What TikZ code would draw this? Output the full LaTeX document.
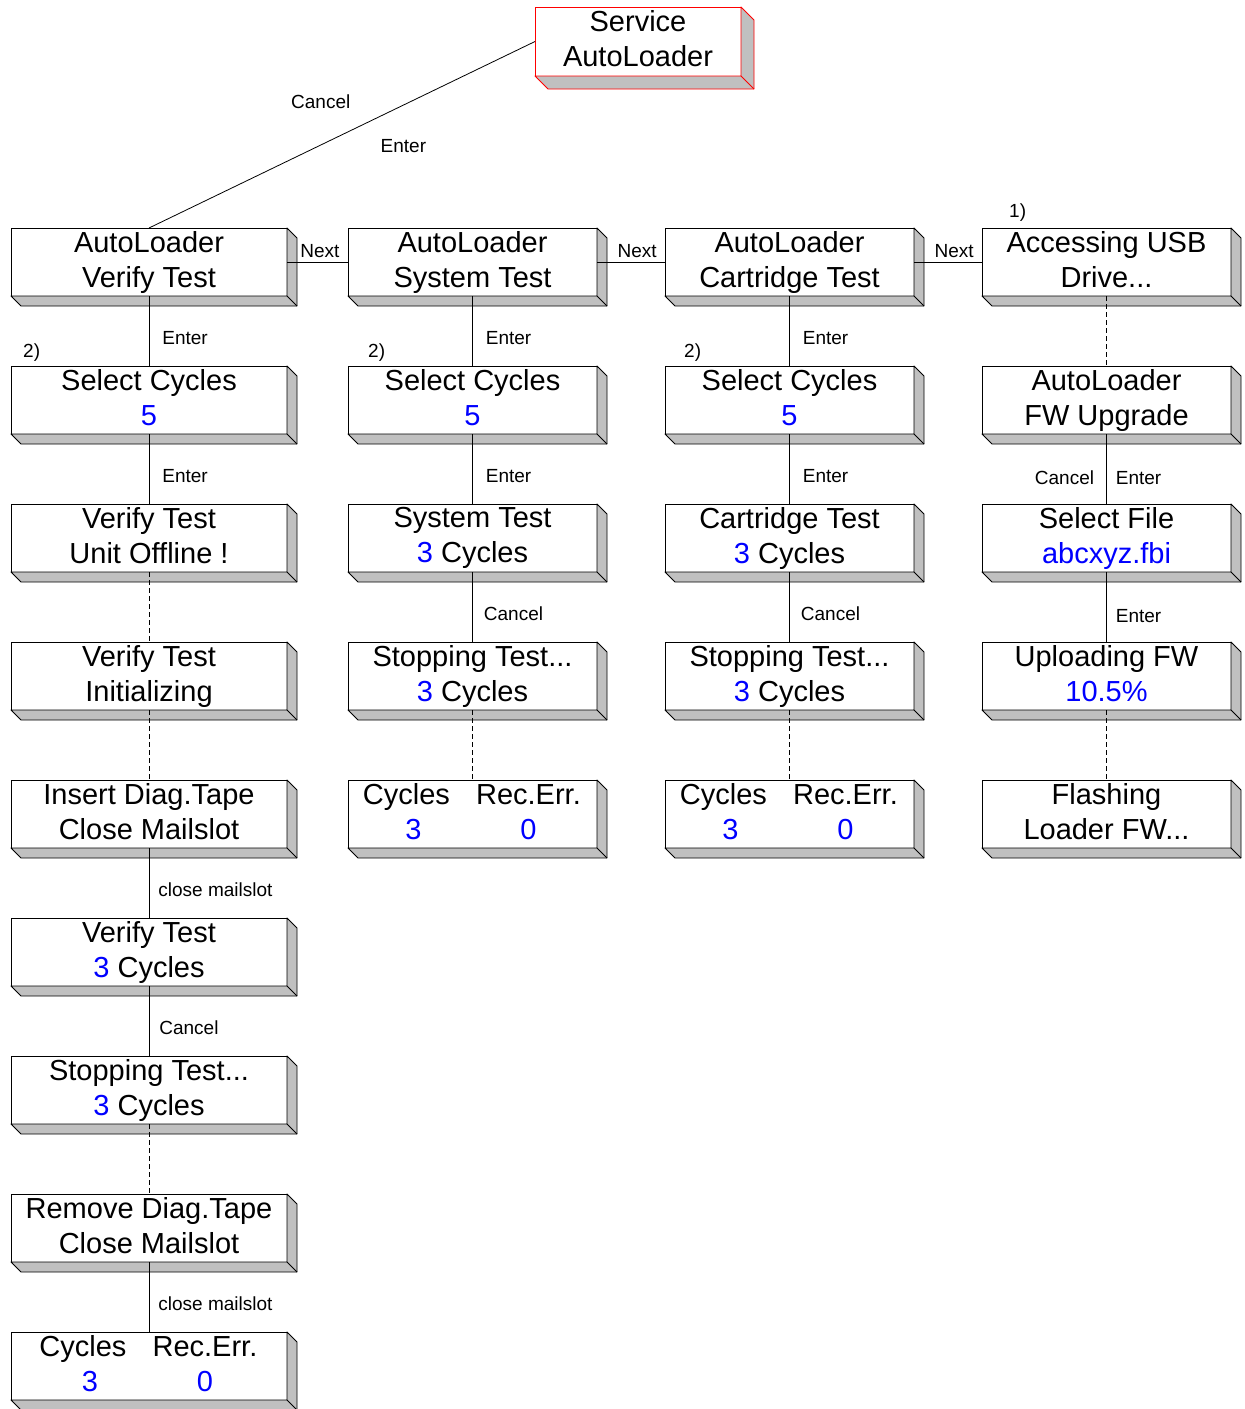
\documentclass[tikz,border=0pt]{standalone}
\usepackage{fontspec}
\setmainfont{Liberation Sans}
\usetikzlibrary{positioning,calc}

\definecolor{extrgray}{RGB}{192,192,192}
\newcommand{\boxfont}{\fontsize{29}{35}\selectfont}
\newcommand{\lblfont}{\fontsize{19}{22}\selectfont}
\newcommand{\val}[1]{\textcolor{blue}{#1}}
\newcommand{\topstrut}{\rule{0pt}{26pt}}
\newcommand{\botstrut}{\rule[-6pt]{0pt}{6pt}}
\newcommand{\colpair}[2]{\makebox[90pt]{#1}\hspace{22pt}\makebox[110pt]{#2}}
\newcommand{\restab}{\colpair{Cycles}{Rec.Err.}\\\colpair{\hspace{14pt}\val{3}}{\val{0}}}

\begin{document}
\begin{tikzpicture}[x=1pt, y=-1pt, node distance=70pt,
    box/.style={rectangle, draw, fill=white, line width=0.9pt, outer sep=0pt, align=center, inner sep=0pt, minimum height=68pt, font=\boxfont, execute at begin node=\topstrut, execute at end node=\botstrut},
    wide/.style={box, minimum width=276pt},
    narrow/.style={box, minimum width=249pt},
    lbl/.style={font=\lblfont, inner sep=0pt},
    rlbl/.style={lbl, right=13pt, pos=0.6},
    line/.style={line width=0.8pt},
    dline/.style={line, dash pattern=on 5pt off 3pt},
    extr/.style={fill=extrgray, draw, line width=0.9pt, line join=round}
]
\useasboundingbox (0,0) rectangle (1245,1409);

\node[box, draw=red, minimum width=206pt, minimum height=69pt] (svc) at (638,41.5) {Service\\AutoLoader};

% verify test column
\node[wide] (vtop) at (149,262) {AutoLoader\\Verify Test};
\node[wide, below=of vtop] (vsel) {Select Cycles\\\val{5}};
\node[wide, below=of vsel] (voff) {Verify Test\\Unit Offline !};
\node[wide, below=of voff] (vini) {Verify Test\\Initializing};
\node[wide, below=of vini] (vins) {Insert Diag.Tape\\Close Mailslot};
\node[wide, below=of vins] (vcyc) {Verify Test\\\val{3} Cycles};
\node[wide, below=of vcyc] (vstop) {Stopping Test...\\\val{3} Cycles};
\node[wide, below=of vstop] (vrem) {Remove Diag.Tape\\Close Mailslot};
\node[wide, below=of vrem] (vres) {\restab};

% system test column
\node[narrow, right=61pt of vtop] (stop) {AutoLoader\\System Test};
\node[narrow, below=of stop] (ssel) {Select Cycles\\\val{5}};
\node[narrow, below=of ssel] (scyc) {System Test\\\val{3} Cycles};
\node[narrow, below=of scyc] (sstop) {Stopping Test...\\\val{3} Cycles};
\node[narrow, below=of sstop] (sres) {\restab};

% cartridge test column
\node[narrow, right=68pt of stop] (ctop) {AutoLoader\\Cartridge Test};
\node[narrow, below=of ctop] (csel) {Select Cycles\\\val{5}};
\node[narrow, below=of csel] (ccyc) {Cartridge Test\\\val{3} Cycles};
\node[narrow, below=of ccyc] (cstop) {Stopping Test...\\\val{3} Cycles};
\node[narrow, below=of cstop] (cres) {\restab};

% usb column
\node[narrow, right=68pt of ctop] (uacc) {Accessing USB\\Drive...};
\node[narrow, below=of uacc] (uupg) {AutoLoader\\FW Upgrade};
\node[narrow, below=of uupg] (ufile) {Select File\\\val{abcxyz.fbi}};
\node[narrow, below=of ufile] (uload) {Uploading FW\\\val{10.5\%}};
\node[narrow, below=of uload] (uflash) {Flashing\\Loader FW...};

% extruded sides
\foreach \n in {vtop,vsel,voff,vini,vins,vcyc,vstop,vrem,vres,stop,ssel,scyc,sstop,sres,ctop,csel,ccyc,cstop,cres,uacc,uupg,ufile,uload,uflash}{
  \filldraw[extr] (\n.south west) -- ++(10,10) -- ($(\n.south east)+(10,10)$) -- ($(\n.north east)+(10,10)$) -- (\n.north east) -- (\n.south east) -- cycle;
  \draw[extr] (\n.south east) -- ++(10,10);
}
\filldraw[extr, draw=red] (svc.south west) -- ++(13,13) -- ($(svc.south east)+(13,13)$) -- ($(svc.north east)+(13,13)$) -- (svc.north east) -- (svc.south east) -- cycle;
\draw[extr, draw=red] (svc.south east) -- ++(13,13);

% notes
\node[lbl, anchor=south west, xshift=27pt, yshift=6pt] (n1) at (uacc.north west) {1)};
\node[lbl, anchor=south west, xshift=12pt, yshift=4pt] (n2v) at (vsel.north west) {2)};
\node[lbl, anchor=south west, xshift=20pt, yshift=4pt] (n2s) at (ssel.north west) {2)};
\node[lbl, anchor=south west, xshift=19pt, yshift=4pt] (n2c) at (csel.north west) {2)};

% connectors
\draw[line] (svc.west) -- node[lbl, pos=0.555, yshift=43pt] {Cancel} node[lbl, pos=0.341, yshift=-41pt] {Enter} (vtop.north);
\draw[line] (vtop.east) -- node[lbl, above=4pt, pos=0.54] {Next} (stop.west);
\draw[line] (stop.east) -- node[lbl, above=4pt, pos=0.59] {Next} (ctop.west);
\draw[line] (ctop.east) -- node[lbl, above=4pt, pos=0.59] {Next} (uacc.west);

\draw[line] (vtop.south) -- node[rlbl] {Enter} (vsel.north);
\draw[line] (vsel.south) -- node[rlbl] {Enter} (voff.north);
\draw[dline] (voff.south) -- (vini.north);
\draw[dline] (vini.south) -- (vins.north);
\draw[line] (vins.south) -- node[rlbl, right=9pt] {close mailslot} (vcyc.north);
\draw[line] (vcyc.south) -- node[rlbl, right=10pt] {Cancel} (vstop.north);
\draw[dline] (vstop.south) -- (vrem.north);
\draw[line] (vrem.south) -- node[rlbl, right=9pt] {close mailslot} (vres.north);

\draw[line] (stop.south) -- node[rlbl] {Enter} (ssel.north);
\draw[line] (ssel.south) -- node[rlbl] {Enter} (scyc.north);
\draw[line] (scyc.south) -- node[rlbl, right=11pt] {Cancel} (sstop.north);
\draw[dline] (sstop.south) -- (sres.north);

\draw[line] (ctop.south) -- node[rlbl] {Enter} (csel.north);
\draw[line] (csel.south) -- node[rlbl] {Enter} (ccyc.north);
\draw[line] (ccyc.south) -- node[rlbl, right=11pt] {Cancel} (cstop.north);
\draw[dline] (cstop.south) -- (cres.north);

\draw[dline] (uacc.south) -- (uupg.north);
\draw[line] (uupg.south) -- node[lbl, left=12pt, pos=0.63] {Cancel} node[lbl, right=9pt, pos=0.63] {Enter} (ufile.north);
\draw[line] (ufile.south) -- node[lbl, right=9pt, pos=0.63] {Enter} (uload.north);
\draw[dline] (uload.south) -- (uflash.north);

\end{tikzpicture}
\end{document}
